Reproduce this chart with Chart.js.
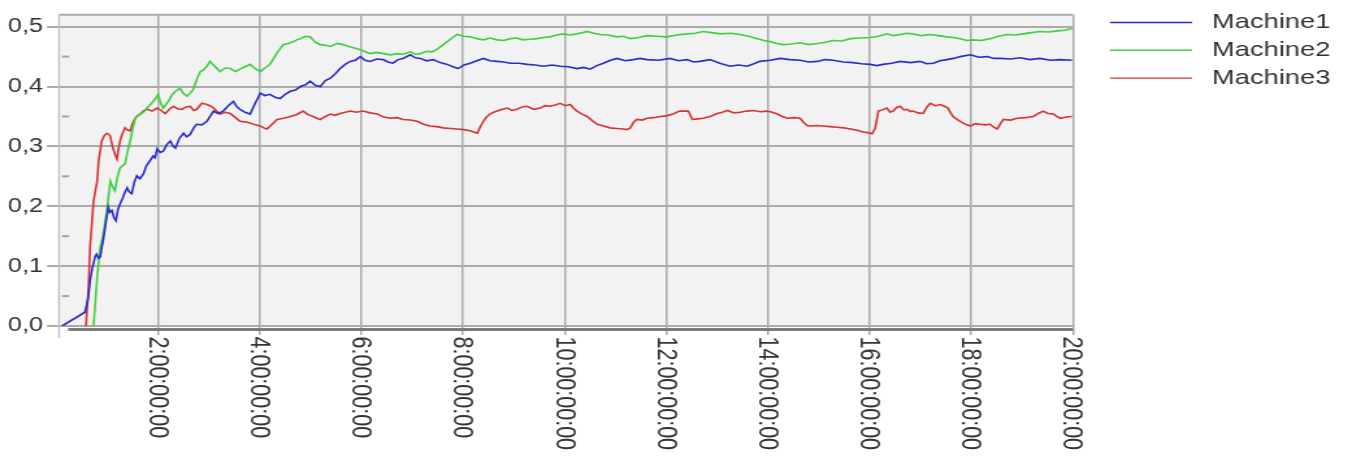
<!DOCTYPE html>
<html>
<head>
<meta charset="utf-8">
<script src="https://cdn.jsdelivr.net/npm/chart.js@4.4.1/dist/chart.umd.min.js"></script>
<style>
  html, body { margin: 0; padding: 0; background: #ffffff; }
  #stage { width: 1040px; height: 457px; transform: scaleX(1.3); transform-origin: 0 0; }
  canvas { display: block; }
</style>
</head>
<body>
<div id="stage"><canvas id="chart" width="1040" height="457"></canvas></div>
<script>
// Utilisation per machine, sampled as [elapsed hours, value]
const machine1 = [
  [0.11,0],[0.56,0.023],[0.62,0.045],[0.66,0.075],[0.70,0.095],[0.73,0.105],[0.76,0.116],[0.79,0.120],
  [0.83,0.113],[0.86,0.115],[0.89,0.131],[0.92,0.143],[0.97,0.172],[1.02,0.198],[1.05,0.190],[1.09,0.193],
  [1.13,0.181],[1.17,0.176],[1.21,0.195],[1.25,0.204],[1.30,0.213],[1.34,0.222],[1.39,0.231],[1.43,0.224],
  [1.48,0.221],[1.53,0.240],[1.58,0.251],[1.64,0.246],[1.71,0.254],[1.77,0.268],[1.84,0.276],[1.90,0.284],
  [1.94,0.281],[1.98,0.296],[2.04,0.290],[2.10,0.292],[2.17,0.303],[2.24,0.309],[2.29,0.301],[2.34,0.297],
  [2.42,0.314],[2.50,0.322],[2.56,0.316],[2.63,0.320],[2.70,0.331],[2.76,0.337],[2.86,0.336],[2.96,0.342],
  [3.02,0.350],[3.09,0.359],[3.18,0.355],[3.28,0.359],[3.38,0.368],[3.48,0.375],[3.55,0.366],[3.61,0.362],
  [3.71,0.357],[3.81,0.354],[3.91,0.372],[4.01,0.389],[4.10,0.385],[4.20,0.387],[4.30,0.382],[4.40,0.380],
  [4.50,0.387],[4.60,0.392],[4.70,0.394],[4.80,0.400],[4.90,0.403],[4.99,0.409],[5.09,0.402],[5.19,0.400],
  [5.29,0.410],[5.39,0.414],[5.48,0.421],[5.58,0.430],[5.68,0.437],[5.78,0.442],[5.88,0.444],[5.98,0.450],
  [6.07,0.444],[6.17,0.442],[6.30,0.446],[6.43,0.445],[6.52,0.441],[6.62,0.439],[6.72,0.445],[6.82,0.447],
  [6.96,0.453],[7.06,0.448],[7.16,0.447],[7.28,0.443],[7.41,0.445],[7.55,0.440],[7.69,0.437],[7.80,0.433],
  [7.90,0.430],[8.02,0.436],[8.14,0.439],[8.27,0.443],[8.40,0.447],[8.53,0.443],[8.67,0.442],[8.80,0.441],
  [8.93,0.439],[9.10,0.439],[9.26,0.437],[9.42,0.436],[9.58,0.434],[9.75,0.436],[9.91,0.434],[10.07,0.433],
  [10.24,0.430],[10.37,0.432],[10.50,0.429],[10.63,0.435],[10.76,0.439],[10.90,0.444],[11.03,0.447],[11.19,0.443],
  [11.35,0.445],[11.48,0.447],[11.62,0.445],[11.85,0.444],[12.07,0.447],[12.24,0.443],[12.41,0.445],[12.53,0.441],
  [12.66,0.442],[12.86,0.445],[13.05,0.439],[13.25,0.434],[13.42,0.436],[13.59,0.434],[13.72,0.438],[13.84,0.442],
  [14.04,0.444],[14.24,0.447],[14.43,0.445],[14.63,0.444],[14.80,0.441],[14.97,0.442],[15.12,0.445],[15.28,0.444],
  [15.48,0.441],[15.67,0.440],[15.84,0.438],[16.01,0.437],[16.14,0.435],[16.26,0.437],[16.43,0.439],[16.60,0.442],
  [16.80,0.440],[16.99,0.442],[17.12,0.438],[17.25,0.439],[17.38,0.443],[17.52,0.445],[17.65,0.447],[17.78,0.450],
  [17.98,0.453],[18.15,0.449],[18.31,0.450],[18.44,0.447],[18.57,0.447],[18.77,0.446],[18.96,0.448],[19.15,0.445],
  [19.35,0.447],[19.55,0.444],[19.75,0.445],[19.98,0.444]
];
const machine2 = [
  [0.73,0],[0.80,0.081],[0.86,0.131],[0.92,0.154],[0.99,0.193],[1.06,0.242],[1.10,0.233],[1.15,0.226],
  [1.20,0.249],[1.25,0.264],[1.30,0.268],[1.35,0.271],[1.40,0.292],[1.45,0.309],[1.50,0.330],[1.55,0.347],
  [1.60,0.351],[1.65,0.354],[1.72,0.358],[1.78,0.364],[1.84,0.369],[1.90,0.375],[1.95,0.380],[2.00,0.387],
  [2.05,0.372],[2.10,0.364],[2.15,0.370],[2.20,0.375],[2.27,0.386],[2.34,0.392],[2.43,0.397],[2.50,0.388],
  [2.57,0.384],[2.63,0.389],[2.69,0.395],[2.76,0.412],[2.83,0.425],[2.90,0.428],[2.96,0.434],[3.02,0.442],
  [3.12,0.433],[3.22,0.425],[3.32,0.431],[3.42,0.430],[3.52,0.425],[3.61,0.429],[3.71,0.433],[3.81,0.437],
  [3.91,0.430],[4.01,0.425],[4.10,0.431],[4.20,0.437],[4.33,0.455],[4.46,0.470],[4.56,0.472],[4.66,0.475],
  [4.73,0.478],[4.80,0.480],[4.90,0.484],[4.99,0.483],[5.09,0.474],[5.19,0.470],[5.29,0.469],[5.39,0.467],
  [5.52,0.472],[5.64,0.470],[5.78,0.466],[5.92,0.463],[6.05,0.459],[6.17,0.455],[6.30,0.457],[6.43,0.455],
  [6.57,0.453],[6.70,0.455],[6.83,0.454],[6.96,0.458],[7.06,0.454],[7.16,0.455],[7.28,0.459],[7.39,0.458],
  [7.50,0.463],[7.61,0.470],[7.75,0.479],[7.88,0.487],[8.01,0.484],[8.14,0.483],[8.27,0.480],[8.40,0.478],
  [8.53,0.481],[8.67,0.478],[8.80,0.477],[8.93,0.480],[9.05,0.481],[9.18,0.478],[9.32,0.479],[9.46,0.480],
  [9.58,0.482],[9.71,0.483],[9.84,0.486],[9.97,0.488],[10.10,0.486],[10.24,0.488],[10.34,0.490],[10.44,0.492],
  [10.57,0.489],[10.70,0.487],[10.86,0.486],[11.03,0.483],[11.16,0.484],[11.29,0.480],[11.45,0.482],[11.62,0.485],
  [11.82,0.484],[12.01,0.483],[12.21,0.486],[12.41,0.488],[12.56,0.489],[12.72,0.492],[12.89,0.490],[13.06,0.488],
  [13.26,0.489],[13.45,0.487],[13.62,0.484],[13.79,0.480],[13.92,0.477],[14.04,0.475],[14.17,0.472],[14.30,0.470],
  [14.46,0.471],[14.63,0.473],[14.80,0.470],[14.97,0.472],[15.12,0.474],[15.28,0.477],[15.45,0.476],[15.62,0.480],
  [15.81,0.481],[16.01,0.482],[16.17,0.484],[16.34,0.488],[16.47,0.485],[16.60,0.487],[16.72,0.489],[16.85,0.488],
  [17.02,0.485],[17.19,0.487],[17.35,0.485],[17.52,0.483],[17.65,0.482],[17.78,0.480],[17.91,0.477],[18.04,0.478],
  [18.20,0.477],[18.37,0.480],[18.53,0.484],[18.70,0.487],[18.86,0.486],[19.02,0.488],[19.18,0.490],[19.35,0.492],
  [19.52,0.491],[19.69,0.493],[19.84,0.494],[19.98,0.497]
];
const machine3 = [
  [0.58,0],[0.63,0.065],[0.66,0.131],[0.70,0.176],[0.73,0.209],[0.80,0.242],[0.83,0.276],[0.89,0.309],
  [0.94,0.318],[0.99,0.322],[1.03,0.320],[1.06,0.317],[1.10,0.300],[1.15,0.287],[1.19,0.279],[1.22,0.296],
  [1.25,0.309],[1.30,0.322],[1.35,0.331],[1.40,0.327],[1.45,0.326],[1.50,0.339],[1.55,0.347],[1.60,0.352],
  [1.65,0.354],[1.72,0.360],[1.80,0.362],[1.88,0.359],[1.98,0.364],[2.06,0.360],[2.14,0.355],[2.22,0.362],
  [2.30,0.367],[2.38,0.363],[2.47,0.362],[2.55,0.366],[2.63,0.367],[2.70,0.360],[2.76,0.362],[2.86,0.372],
  [2.96,0.370],[3.02,0.368],[3.09,0.364],[3.16,0.358],[3.22,0.354],[3.32,0.357],[3.42,0.355],[3.52,0.348],
  [3.61,0.342],[3.71,0.341],[3.81,0.339],[3.91,0.336],[4.01,0.334],[4.08,0.331],[4.14,0.329],[4.24,0.337],
  [4.34,0.345],[4.47,0.347],[4.60,0.350],[4.72,0.353],[4.85,0.359],[4.95,0.353],[5.05,0.350],[5.12,0.347],
  [5.19,0.345],[5.29,0.350],[5.39,0.354],[5.48,0.352],[5.58,0.355],[5.68,0.357],[5.78,0.359],[5.90,0.357],
  [6.03,0.359],[6.17,0.356],[6.31,0.354],[6.44,0.349],[6.57,0.347],[6.70,0.348],[6.82,0.345],[6.96,0.344],
  [7.10,0.342],[7.22,0.337],[7.35,0.334],[7.48,0.333],[7.61,0.331],[7.75,0.330],[7.88,0.329],[8.01,0.328],
  [8.14,0.326],[8.21,0.324],[8.28,0.322],[8.34,0.333],[8.40,0.342],[8.46,0.349],[8.53,0.354],[8.60,0.357],
  [8.67,0.359],[8.77,0.362],[8.87,0.364],[8.96,0.360],[9.06,0.362],[9.16,0.366],[9.26,0.367],[9.39,0.362],
  [9.52,0.364],[9.61,0.368],[9.71,0.367],[9.81,0.369],[9.91,0.372],[10.01,0.368],[10.11,0.370],[10.17,0.364],
  [10.24,0.359],[10.34,0.354],[10.44,0.350],[10.54,0.343],[10.64,0.337],[10.76,0.334],[10.89,0.331],[11.02,0.330],
  [11.15,0.329],[11.22,0.328],[11.29,0.331],[11.35,0.340],[11.42,0.345],[11.52,0.344],[11.62,0.347],[11.75,0.348],
  [11.88,0.350],[12.00,0.351],[12.13,0.354],[12.20,0.357],[12.27,0.359],[12.43,0.359],[12.47,0.352],[12.51,0.345],
  [12.62,0.346],[12.72,0.347],[12.86,0.350],[13.00,0.355],[13.10,0.357],[13.20,0.360],[13.33,0.356],[13.45,0.357],
  [13.58,0.359],[13.71,0.360],[13.85,0.358],[13.98,0.359],[14.08,0.357],[14.18,0.354],[14.28,0.350],[14.38,0.347],
  [14.50,0.348],[14.63,0.347],[14.70,0.340],[14.77,0.335],[14.83,0.334],[14.96,0.335],[15.08,0.334],[15.22,0.333],
  [15.36,0.332],[15.49,0.331],[15.62,0.329],[15.75,0.327],[15.87,0.324],[15.96,0.323],[16.05,0.321],[16.11,0.331],
  [16.17,0.359],[16.25,0.361],[16.34,0.364],[16.40,0.357],[16.46,0.359],[16.53,0.365],[16.60,0.367],[16.67,0.361],
  [16.74,0.362],[16.80,0.358],[16.85,0.359],[16.95,0.356],[17.05,0.355],[17.12,0.365],[17.19,0.372],[17.29,0.368],
  [17.39,0.370],[17.47,0.367],[17.54,0.364],[17.59,0.356],[17.64,0.350],[17.74,0.344],[17.84,0.339],[17.91,0.336],
  [17.98,0.334],[18.08,0.338],[18.17,0.337],[18.27,0.336],[18.37,0.337],[18.44,0.332],[18.51,0.329],[18.57,0.338],
  [18.63,0.345],[18.77,0.344],[18.90,0.347],[19.06,0.348],[19.22,0.350],[19.32,0.355],[19.41,0.359],[19.51,0.355],
  [19.61,0.354],[19.68,0.350],[19.75,0.347],[19.87,0.349],[19.98,0.350]
];

const seriesNames = ['Machine1', 'Machine2', 'Machine3'];

// Axis ticks
const xTickValues = [2, 4, 6, 8, 10, 12, 14, 16, 18, 20];
const xTickLabels = ['2:00:00:00', '4:00:00:00', '6:00:00:00', '8:00:00:00', '10:00:00:00',
                     '12:00:00:00', '14:00:00:00', '16:00:00:00', '18:00:00:00', '20:00:00:00'];
const yTickValues = [0, 0.1, 0.2, 0.3, 0.4, 0.5];
const yTickLabels = ['0,0', '0,1', '0,2', '0,3', '0,4', '0,5'];
const yMinorTicks = [0.05, 0.15, 0.25, 0.35, 0.45];

const FONT = '"Liberation Sans", Arial, Helvetica, sans-serif';
const TEXT = '#333333';
const GRID = '#ababab';
const lineColors = ['#2a2ad0', '#3fcf3f', '#d93232'];

Chart.defaults.font.family = FONT;

const toPoints = rows => rows.map(([h, v]) => ({ x: h, y: v }));

// Plot background, frame, bottom axis bar, rotated time labels and legend
const framePlugin = {
  id: 'frame',
  beforeDraw(chart) {
    const { ctx, chartArea: a } = chart;
    ctx.save();
    ctx.fillStyle = '#f2f2f2';
    ctx.fillRect(a.left, a.top, a.right - a.left, a.bottom - a.top);
    ctx.restore();
  },
  afterDraw(chart) {
    const { ctx, chartArea: a, scales: { x, y } } = chart;
    ctx.save();

    ctx.strokeStyle = GRID;
    ctx.lineWidth = 2;
    ctx.beginPath();
    ctx.moveTo(a.left, a.top);
    ctx.lineTo(a.right, a.top);
    ctx.stroke();

    ctx.strokeStyle = '#c2c2c2';
    ctx.lineWidth = 1.4;
    ctx.beginPath();
    ctx.moveTo(a.left, a.top);
    ctx.lineTo(a.left, a.bottom + 12);
    ctx.stroke();

    ctx.strokeStyle = '#a0a0a0';
    ctx.lineWidth = 2;
    yMinorTicks.forEach(v => {
      const py = y.getPixelForValue(v);
      ctx.beginPath();
      ctx.moveTo(a.left + 2.3, py);
      ctx.lineTo(a.left + 7.7, py);
      ctx.stroke();
    });

    ctx.strokeStyle = '#7c7c7c';
    ctx.lineWidth = 3;
    ctx.beginPath();
    ctx.moveTo(a.left + 7, a.bottom + 3.5);
    ctx.lineTo(a.right, a.bottom + 3.5);
    ctx.stroke();

    ctx.fillStyle = TEXT;
    ctx.font = '21.5px ' + FONT;
    ctx.textAlign = 'left';
    ctx.textBaseline = 'middle';
    xTickValues.forEach((v, i) => {
      const px = x.getPixelForValue(v);
      ctx.save();
      ctx.translate(px - 1, a.bottom + 10.5);
      ctx.rotate(Math.PI / 2);
      ctx.fillText(xTickLabels[i], 0, 0);
      ctx.restore();
    });

    ctx.font = '21px ' + FONT;
    ctx.lineWidth = 1.4;
    seriesNames.forEach((name, i) => {
      const ly = 22.5 + i * 27.8;
      ctx.strokeStyle = lineColors[i];
      ctx.beginPath();
      ctx.moveTo(853.8, ly);
      ctx.lineTo(916.9, ly);
      ctx.stroke();
      ctx.fillStyle = TEXT;
      ctx.fillText(name, 932.3, ly);
    });

    ctx.restore();
  }
};

new Chart(document.getElementById('chart'), {
  type: 'line',
  data: {
    datasets: [machine1, machine2, machine3].map((rows, i) => ({
      label: seriesNames[i],
      data: toPoints(rows),
      borderColor: lineColors[i],
      borderWidth: 1.6,
      pointRadius: 0,
      tension: 0,
      fill: false
    }))
  },
  options: {
    responsive: false,
    animation: false,
    devicePixelRatio: 1,
    events: [],
    layout: { padding: { top: 13, right: 214.6, left: 0, bottom: 0 } },
    plugins: { legend: { display: false }, tooltip: { enabled: false } },
    scales: {
      x: {
        type: 'linear',
        min: 0.05,
        max: 20,
        afterBuildTicks: s => { s.ticks = xTickValues.map(v => ({ value: v })); },
        afterFit: s => { s.height = 131; },
        ticks: { display: false },
        grid: { color: GRID, lineWidth: 1.5, drawTicks: true, tickLength: 9 },
        border: { display: false }
      },
      y: {
        min: 0,
        max: 0.52,
        afterBuildTicks: s => { s.ticks = yTickValues.map(v => ({ value: v })); },
        afterFit: s => { s.width = 45.4; },
        ticks: {
          padding: 3,
          color: TEXT,
          font: { size: 19.5 },
          callback: (value, index) => yTickLabels[index]
        },
        grid: { color: GRID, lineWidth: 2, drawTicks: true, tickLength: 9.2 },
        border: { display: false }
      }
    }
  },
  plugins: [framePlugin]
});
</script>
</body>
</html>
